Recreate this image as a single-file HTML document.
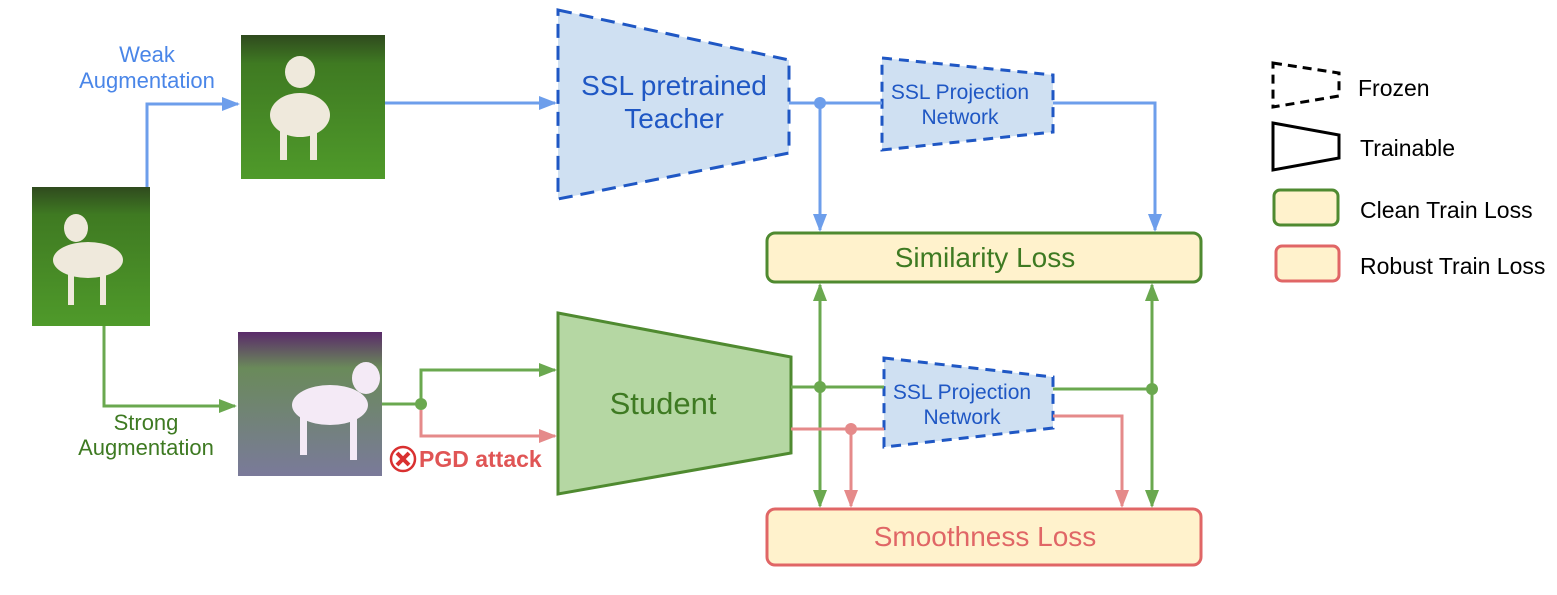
<!DOCTYPE html>
<html><head><style>
html,body{margin:0;padding:0;background:#fff;}
svg{display:block;font-family:"Liberation Sans","DejaVu Sans",sans-serif;}
</style></head><body>
<svg width="1557" height="595" viewBox="0 0 1557 595" xmlns="http://www.w3.org/2000/svg">
<defs>
<marker id="ab" markerWidth="18" markerHeight="14" refX="16" refY="7" orient="auto" markerUnits="userSpaceOnUse" viewBox="0 0 18 14"><path d="M0,0 L18,7 L0,14z" fill="#6d9eeb"/></marker>
<marker id="ag" markerWidth="18" markerHeight="14" refX="16" refY="7" orient="auto" markerUnits="userSpaceOnUse" viewBox="0 0 18 14"><path d="M0,0 L18,7 L0,14z" fill="#6aa84f"/></marker>
<marker id="ar" markerWidth="18" markerHeight="14" refX="16" refY="7" orient="auto" markerUnits="userSpaceOnUse" viewBox="0 0 18 14"><path d="M0,0 L18,7 L0,14z" fill="#e58a8a"/></marker>
<linearGradient id="grass" x1="0" y1="0" x2="0" y2="1"><stop offset="0" stop-color="#2f4a1e"/><stop offset="0.2" stop-color="#3f7a22"/><stop offset="1" stop-color="#4f9a2a"/></linearGradient>
<linearGradient id="grass2" x1="0" y1="0" x2="0" y2="1"><stop offset="0" stop-color="#5a2a6a"/><stop offset="0.25" stop-color="#6a8a5a"/><stop offset="1" stop-color="#7a7a9a"/></linearGradient>
</defs>

<!-- images -->
<rect x="32" y="187" width="118" height="139" fill="url(#grass)"/>
<ellipse cx="88" cy="260" rx="35" ry="18" fill="#efe9dc"/><ellipse cx="76" cy="228" rx="12" ry="14" fill="#efe9dc"/>
<rect x="68" y="265" width="6" height="40" fill="#efe9dc"/><rect x="100" y="265" width="6" height="40" fill="#efe9dc"/>
<rect x="241" y="35" width="144" height="144" fill="url(#grass)"/>
<ellipse cx="300" cy="115" rx="30" ry="22" fill="#efe9dc"/><ellipse cx="300" cy="72" rx="15" ry="16" fill="#efe9dc"/>
<rect x="280" y="120" width="7" height="40" fill="#efe9dc"/><rect x="310" y="120" width="7" height="40" fill="#efe9dc"/>
<rect x="238" y="332" width="144" height="144" fill="url(#grass2)"/>
<ellipse cx="330" cy="405" rx="38" ry="20" fill="#f4eaf6"/><ellipse cx="366" cy="378" rx="14" ry="16" fill="#f4eaf6"/>
<rect x="300" y="410" width="7" height="45" fill="#f4eaf6"/><rect x="350" y="410" width="7" height="50" fill="#f4eaf6"/>

<!-- shapes -->
<polygon points="558,10 789,60 789,153 558,199" fill="#cfe0f2" stroke="#1f57c4" stroke-width="3" stroke-dasharray="14,8"/>
<text x="674" y="95" font-size="28" fill="#1f57c4" text-anchor="middle">SSL pretrained</text>
<text x="674" y="128" font-size="28" fill="#1f57c4" text-anchor="middle">Teacher</text>

<polygon points="882,58 1053,75 1053,132 882,150" fill="#cfe0f2" stroke="#1f57c4" stroke-width="3" stroke-dasharray="10,7"/>
<text x="960" y="99" font-size="21" fill="#1f57c4" text-anchor="middle">SSL Projection</text>
<text x="960" y="124" font-size="21" fill="#1f57c4" text-anchor="middle">Network</text>

<polygon points="558,313 791,357 791,453 558,494" fill="#b5d7a3" stroke="#4f8a30" stroke-width="3"/>
<text x="663" y="414" font-size="31" fill="#3e7a22" text-anchor="middle">Student</text>

<polygon points="884,358 1053,377 1053,428 884,447" fill="#cfe0f2" stroke="#1f57c4" stroke-width="3" stroke-dasharray="10,7"/>
<text x="962" y="399" font-size="21" fill="#1f57c4" text-anchor="middle">SSL Projection</text>
<text x="962" y="424" font-size="21" fill="#1f57c4" text-anchor="middle">Network</text>

<rect x="767" y="233" width="434" height="49" rx="8" fill="#fff2cc" stroke="#4f8a30" stroke-width="3"/>
<text x="985" y="267" font-size="28" fill="#3e7a22" text-anchor="middle">Similarity Loss</text>
<rect x="767" y="509" width="434" height="56" rx="8" fill="#fff2cc" stroke="#e06666" stroke-width="3"/>
<text x="985" y="546" font-size="28" fill="#e06666" text-anchor="middle">Smoothness Loss</text>

<!-- blue connectors -->
<g stroke="#6d9eeb" stroke-width="3" fill="none">
<path d="M147,187 V104 H238" marker-end="url(#ab)"/>
<path d="M385,103 H555" marker-end="url(#ab)"/>
<path d="M789,103 H882"/>
<path d="M820,103 V230" marker-end="url(#ab)"/>
<path d="M1053,103 H1155 V230" marker-end="url(#ab)"/>
</g>
<circle cx="820" cy="103" r="6" fill="#6d9eeb"/>
<text x="147" y="62" font-size="22" fill="#4a86e8" text-anchor="middle">Weak</text>
<text x="147" y="88" font-size="22" fill="#4a86e8" text-anchor="middle">Augmentation</text>

<!-- green connectors -->
<g stroke="#6aa84f" stroke-width="3" fill="none">
<path d="M104,326 V406 H235" marker-end="url(#ag)"/>
<path d="M382,404 H421 V370 H555" marker-end="url(#ag)"/>
<path d="M791,387 H884"/>
<path d="M1053,389 H1152"/>
<path d="M820,387 V285" marker-end="url(#ag)"/>
<path d="M820,387 V506" marker-end="url(#ag)"/>
<path d="M1152,389 V285" marker-end="url(#ag)"/>
<path d="M1152,389 V506" marker-end="url(#ag)"/>
</g>
<circle cx="421" cy="404" r="6" fill="#6aa84f"/>
<circle cx="820" cy="387" r="6" fill="#6aa84f"/>
<circle cx="1152" cy="389" r="6" fill="#6aa84f"/>
<text x="146" y="430" font-size="22" fill="#3e7a22" text-anchor="middle">Strong</text>
<text x="146" y="455" font-size="22" fill="#3e7a22" text-anchor="middle">Augmentation</text>

<!-- red connectors -->
<g stroke="#e58a8a" stroke-width="3" fill="none">
<path d="M421,410 V436 H555" marker-end="url(#ar)"/>
<path d="M791,429 H884"/>
<path d="M851,429 V506" marker-end="url(#ar)"/>
<path d="M1053,416 H1122 V506" marker-end="url(#ar)"/>
</g>
<circle cx="851" cy="429" r="6" fill="#e58a8a"/>
<circle cx="403" cy="459" r="12" fill="#fff" stroke="#d93030" stroke-width="2.5"/>
<path d="M397,453 L409,465 M409,453 L397,465" stroke="#d93030" stroke-width="4"/>
<text x="419" y="467" font-size="23" font-weight="bold" fill="#e05555">PGD attack</text>

<!-- legend -->
<polygon points="1273,63 1339,73 1339,96 1273,107" fill="none" stroke="#000" stroke-width="3" stroke-dasharray="9,6"/>
<text x="1358" y="96" font-size="23" fill="#000">Frozen</text>
<polygon points="1273,123 1339,135 1339,158 1273,170" fill="none" stroke="#000" stroke-width="3"/>
<text x="1360" y="156" font-size="23" fill="#000">Trainable</text>
<rect x="1274" y="190" width="64" height="35" rx="6" fill="#fff2cc" stroke="#4f8a30" stroke-width="3"/>
<text x="1360" y="218" font-size="23" fill="#000">Clean Train Loss</text>
<rect x="1276" y="246" width="63" height="35" rx="6" fill="#fff2cc" stroke="#e06666" stroke-width="3"/>
<text x="1360" y="274" font-size="23" fill="#000">Robust Train Loss</text>
</svg>
</body></html>
